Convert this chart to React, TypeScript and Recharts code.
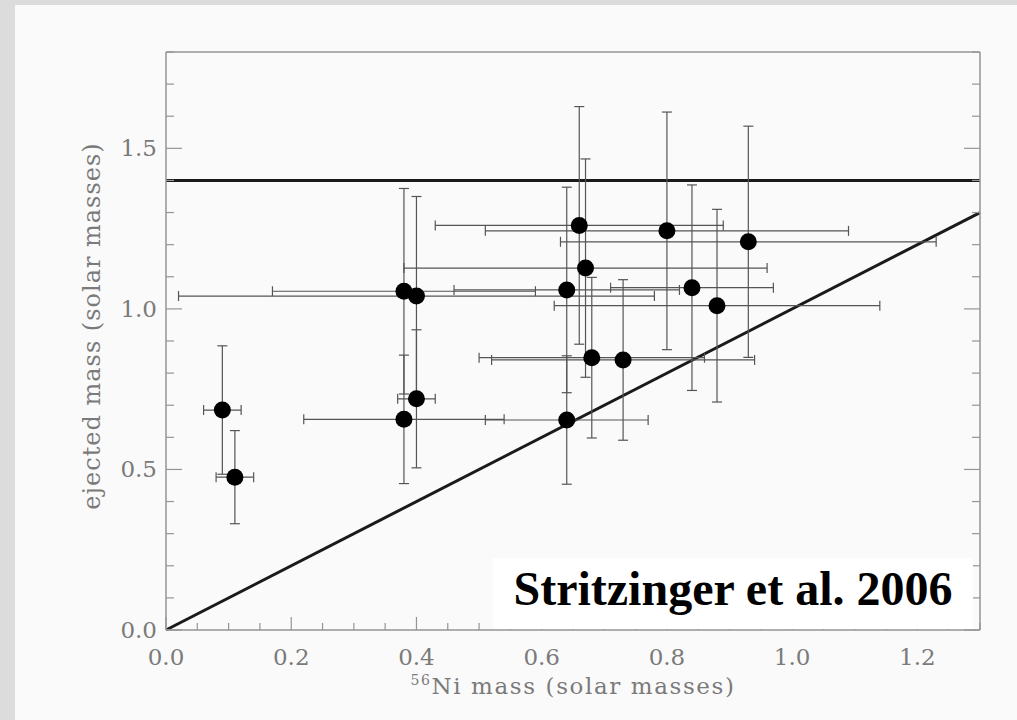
import { ScatterChart, Scatter, XAxis, YAxis, ErrorBar, ReferenceLine, Label } from 'recharts';

// 56Ni mass vs ejected mass, Stritzinger et al. 2006
const niMass = [0.09, 0.11, 0.38, 0.4, 0.38, 0.4, 0.64, 0.64, 0.66, 0.67, 0.68, 0.73, 0.8, 0.84, 0.88, 0.93];
const ejectedMass = [0.685, 0.476, 1.055, 1.04, 0.656, 0.72, 1.059, 0.654, 1.26, 1.127, 0.848, 0.841, 1.243, 1.066, 1.01, 1.209];
const niMassErr = [0.03, 0.03, 0.21, 0.38, 0.16, 0.03, 0.18, 0.13, 0.23, 0.29, 0.18, 0.21, 0.29, 0.13, 0.26, 0.3];
const ejectedMassErr = [0.2, 0.145, 0.32, 0.31, 0.2, 0.215, 0.32, 0.2, 0.37, 0.34, 0.25, 0.25, 0.37, 0.32, 0.3, 0.36];

const chandrasekhar = 1.4;
const xTicks = [0, 0.05, 0.1, 0.15, 0.2, 0.25, 0.3, 0.35, 0.4, 0.45, 0.5, 0.55, 0.6, 0.65, 0.7, 0.75, 0.8, 0.85, 0.9, 0.95, 1.0, 1.05, 1.1, 1.15, 1.2, 1.25, 1.3];
const xLabels = ['0.0', '0.2', '0.4', '0.6', '0.8', '1.0', '1.2'];
const yTicks = [0, 0.1, 0.2, 0.3, 0.4, 0.5, 0.6, 0.7, 0.8, 0.9, 1.0, 1.1, 1.2, 1.3, 1.4, 1.5, 1.6, 1.7, 1.8];
const yLabels = ['0.0', '0.5', '1.0', '1.5'];

const data = niMass.map((x, i) => ({
  x,
  y: ejectedMass[i],
  ex: niMassErr[i],
  ey: ejectedMassErr[i],
}));

const grey = '#959595';
const textGrey = '#7a7a7a';
const font = 'DejaVu Serif';

const labelOf = (v: number, labels: string[]) => labels.find((l) => Math.abs(parseFloat(l) - v) < 1e-6);

const BottomTick = (props: any) => {
  const { x, y, payload } = props;
  const lab = labelOf(payload.value, xLabels);
  return (
    <g>
      <line x1={x} y1={y} x2={x} y2={y - (lab ? 13 : 7)} stroke={grey} strokeWidth={1.2} />
      {lab && (
        <text x={x} y={y + 35} textAnchor="middle" fill={textGrey} fontFamily={font} fontSize={23}>
          {lab}
        </text>
      )}
    </g>
  );
};

const TopTick = (props: any) => {
  const { x, y, payload } = props;
  const lab = labelOf(payload.value, xLabels);
  return <line x1={x} y1={y} x2={x} y2={y + (lab ? 13 : 7)} stroke={grey} strokeWidth={1.2} />;
};

const LeftTick = (props: any) => {
  const { x, y, payload } = props;
  const lab = labelOf(payload.value, yLabels);
  return (
    <g>
      <line x1={x} y1={y} x2={x + (lab ? 16 : 8)} y2={y} stroke={grey} strokeWidth={1.2} />
      {lab && (
        <text x={x - 9} y={y + 8} textAnchor="end" fill={textGrey} fontFamily={font} fontSize={23}>
          {lab}
        </text>
      )}
    </g>
  );
};

const RightTick = (props: any) => {
  const { x, y, payload } = props;
  const lab = labelOf(payload.value, yLabels);
  return <line x1={x} y1={y} x2={x - (lab ? 16 : 8)} y2={y} stroke={grey} strokeWidth={1.2} />;
};

const Dot = (props: any) => <circle cx={props.cx} cy={props.cy} r={8.5} fill="#000" />;

const XTitle = (props: any) => {
  const vb = props.viewBox;
  return (
    <text x={vb.x + vb.width / 2} y={vb.y + 64} textAnchor="middle" fill={textGrey} fontFamily={font} fontSize={23} letterSpacing={1.6}>
      <tspan fontSize={14} dy={-9}>56</tspan>
      <tspan dy={9}>Ni mass (solar masses)</tspan>
    </text>
  );
};

const YTitle = (props: any) => {
  const vb = props.viewBox;
  const cx = vb.x - 6;
  const cy = vb.y + vb.height / 2 - 15;
  return (
    <text x={cx} y={cy} transform={`rotate(-90, ${cx}, ${cy})`} textAnchor="middle" fill={textGrey} fontFamily={font} fontSize={24} letterSpacing={1}>
      ejected mass (solar masses)
    </text>
  );
};

export default function App() {
  return (
    <div style={{ position: 'fixed', left: 0, top: 0, width: 1017, height: 720, background: '#dcdcdc' }}>
      <div style={{ position: 'absolute', left: 15, top: 5, right: 0, bottom: 0, background: '#fafafa' }} />
      <div style={{ position: 'absolute', left: 0, top: 0 }}>
        <ScatterChart width={1017} height={720} margin={{ top: 52, right: 37, bottom: 50, left: 106 }}>
          <XAxis
            xAxisId="bottom"
            type="number"
            dataKey="x"
            domain={[0, 1.3]}
            ticks={xTicks}
            interval={0}
            height={40}
            tickSize={0}
            tickMargin={0}
            tickLine={false}
            tick={<BottomTick />}
            axisLine={{ stroke: grey, strokeWidth: 1.5 }}
            allowDataOverflow
          >
            <Label content={<XTitle />} />
          </XAxis>
          <XAxis
            xAxisId="top"
            orientation="top"
            mirror
            type="number"
            domain={[0, 1.3]}
            ticks={xTicks}
            interval={0}
            tickSize={0}
            tickMargin={0}
            tickLine={false}
            tick={<TopTick />}
            axisLine={{ stroke: grey, strokeWidth: 1.5 }}
            allowDataOverflow
          />
          <YAxis
            yAxisId="left"
            type="number"
            dataKey="y"
            domain={[0, 1.8]}
            ticks={yTicks}
            interval={0}
            width={60}
            tickSize={0}
            tickMargin={0}
            tickLine={false}
            tick={<LeftTick />}
            axisLine={{ stroke: grey, strokeWidth: 1.5 }}
            allowDataOverflow
          >
            <Label content={<YTitle />} />
          </YAxis>
          <YAxis
            yAxisId="right"
            orientation="right"
            mirror
            type="number"
            domain={[0, 1.8]}
            ticks={yTicks}
            interval={0}
            tickSize={0}
            tickMargin={0}
            tickLine={false}
            tick={<RightTick />}
            axisLine={{ stroke: grey, strokeWidth: 1.5 }}
            allowDataOverflow
          />
          <ReferenceLine xAxisId="bottom" yAxisId="left" y={chandrasekhar} stroke="#1a1a1a" strokeWidth={3} />
          <ReferenceLine
            xAxisId="bottom"
            yAxisId="left"
            segment={[{ x: 0, y: 0 }, { x: 1.3, y: 1.3 }]}
            stroke="#1a1a1a"
            strokeWidth={3}
          />
          <Scatter xAxisId="bottom" yAxisId="left" data={data} shape={<Dot />} isAnimationActive={false}>
            <ErrorBar dataKey="ex" direction="x" width={5} stroke="#555" strokeWidth={1.2} />
            <ErrorBar dataKey="ey" direction="y" width={5} stroke="#555" strokeWidth={1.2} />
          </Scatter>
        </ScatterChart>
      </div>
      <svg style={{ position: 'absolute', left: 0, top: 0 }} width={1017} height={720}>
        <rect x={493} y={558} width={480} height={71} fill="#fff" />
        <text x={733} y={605} textAnchor="middle" fontFamily="Liberation Serif" fontWeight="bold" fontSize={48} fill="#000">
          Stritzinger et al. 2006
        </text>
      </svg>
    </div>
  );
}
